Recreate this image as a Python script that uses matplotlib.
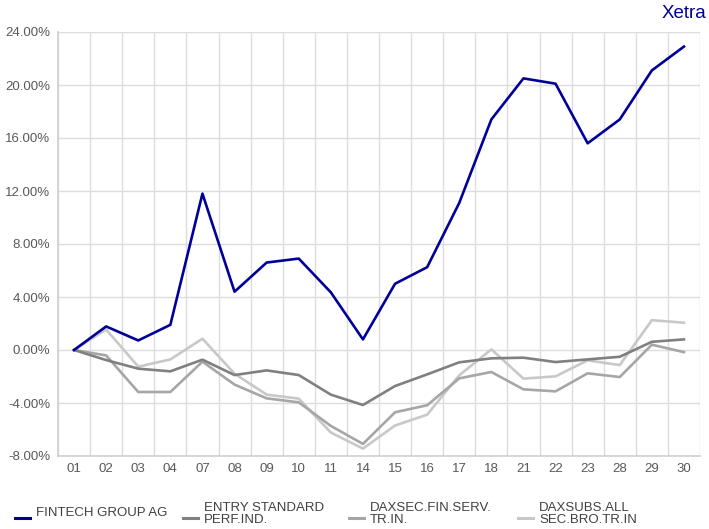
import matplotlib
matplotlib.use("Agg")
import matplotlib.pyplot as plt
from matplotlib.lines import Line2D
from matplotlib.ticker import FuncFormatter

plt.rcParams['font.family'] = ['Liberation Sans', 'DejaVu Sans']

days = ['01', '02', '03', '04', '07', '08', '09', '10', '11', '14',
        '15', '16', '17', '18', '21', '22', '23', '28', '29', '30']

fintech = [0.0, 1.78, 0.72, 1.9, 11.8, 4.4, 6.6, 6.9, 4.35, 0.8,
           5.0, 6.25, 11.1, 17.4, 20.5, 20.1, 15.6, 17.4, 21.1, 22.9]
entry = [0.0, -0.76, -1.41, -1.61, -0.73, -1.89, -1.54, -1.89, -3.37, -4.15,
         -2.72, -1.84, -0.93, -0.63, -0.58, -0.91, -0.71, -0.51, 0.62, 0.8]
daxsec = [0.0, -0.41, -3.17, -3.17, -0.88, -2.61, -3.65, -3.95, -5.73, -7.09,
          -4.7, -4.17, -2.14, -1.66, -2.97, -3.12, -1.76, -2.04, 0.4, -0.16]
daxsubs = [0.0, 1.55, -1.26, -0.71, 0.85, -1.79, -3.37, -3.67, -6.23, -7.44,
           -5.7, -4.88, -1.91, 0.05, -2.16, -1.99, -0.78, -1.14, 2.25, 2.06]

names = ['FINTECH GROUP AG', 'ENTRY STANDARD\nPERF.IND.',
         'DAXSEC.FIN.SERV.\nTR.IN.', 'DAXSUBS.ALL\nSEC.BRO.TR.IN']
colors = ['#000099', '#808080', '#a6a6a6', '#c8c8c8']
series = [fintech, entry, daxsec, daxsubs]

W, H = 709, 529
fig = plt.figure(figsize=(W / 100, H / 100), dpi=100)
ax = fig.add_axes([58 / W, 1 - 456 / H, 642 / W, 424 / H])

x = list(range(len(days)))
# grey series first so the blue line sits on top
for vals, c in list(zip(series, colors))[::-1]:
    ax.plot(x, vals, color=c, linewidth=1.9)

ax.set_xlim(-0.5, len(days) - 0.5)
ax.set_ylim(-8, 24)
ax.set_yticks(range(-8, 25, 4))
ax.yaxis.set_major_formatter(FuncFormatter(lambda v, p: '%.2f%%' % v))
ax.set_xticks(x)
ax.set_xticklabels(days)
ax.set_xticks([i - 0.5 for i in range(len(days) + 1)], minor=True)

ax.grid(False)
ax.grid(True, which='minor', axis='x', color='#dcdcdc', linewidth=1)
ax.grid(True, which='major', axis='y', color='#dcdcdc', linewidth=1)
ax.set_axisbelow(True)
ax.tick_params(axis='both', which='both', length=0, labelsize=9.5, labelcolor='#595959')
ax.tick_params(axis='y', pad=5.5)
ax.tick_params(axis='x', pad=5)
for s in ['top', 'right']:
    ax.spines[s].set_visible(False)
for s in ['left', 'bottom']:
    ax.spines[s].set_color('#d0d0d0')
    ax.spines[s].set_linewidth(1.2)

fig.text(706 / W, 1 - 14 / H, 'Xetra', ha='right', va='center', color='#000099', fontsize=13.5)

# legend along the bottom
handle_x = [15, 183, 349, 518]
for hx, name, c in zip(handle_x, names, colors):
    fig.add_artist(Line2D([hx / W, (hx + 15) / W], [1 - 518 / H, 1 - 518 / H], color=c,
                          linewidth=2.2, transform=fig.transFigure))
    ty = 513 if '\n' not in name else 514
    fig.text((hx + 21) / W, 1 - ty / H, name, ha='left', va='center',
             fontsize=9.5, color='#404040', linespacing=0.92)

fig.savefig('out.png', dpi=100)
